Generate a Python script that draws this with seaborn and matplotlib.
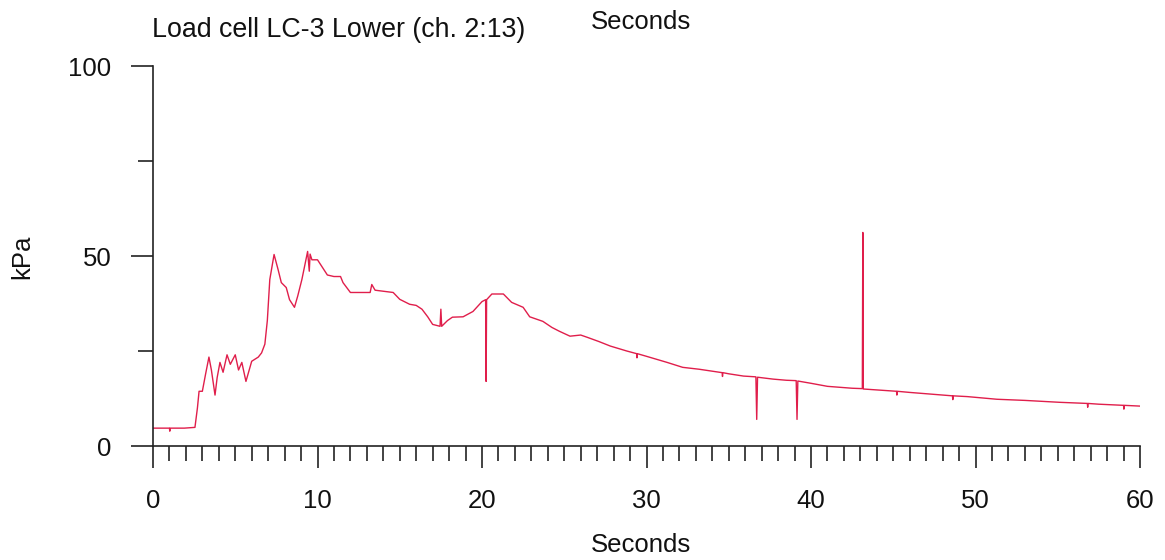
import matplotlib
matplotlib.use("Agg")
import matplotlib.pyplot as plt
import seaborn as sns
import pandas as pd
from matplotlib.ticker import MultipleLocator, FixedLocator

# Load cell LC-3 Lower
seconds = [0.0, 1.0, 1.02, 1.04, 1.9, 2.55, 2.7, 2.8, 3.0, 3.2, 3.4, 3.55, 3.77, 3.9,
           4.07, 4.26, 4.5, 4.7, 5.0, 5.2, 5.4, 5.65, 6.0, 6.4, 6.6, 6.8, 6.95, 7.1,
           7.36, 7.6, 7.8, 8.1, 8.3, 8.6, 8.8, 9.05, 9.4, 9.5, 9.55, 9.66, 10.0, 10.3,
           10.6, 11.0, 11.4, 11.55, 12.0, 13.2, 13.3, 13.5, 14.6, 15.0, 15.6, 16.0,
           16.35, 16.7, 17.0, 17.45, 17.5, 17.55, 17.9, 18.2, 18.85, 19.45, 20.0,
           20.22, 20.25, 20.28, 20.6, 21.3, 21.8, 22.5, 22.9, 23.7, 24.25, 24.7,
           25.35, 26.0, 26.4, 27.1, 27.8, 28.8, 29.4, 29.42, 29.44, 30.0, 31.25, 32.2,
           33.2, 34.0, 34.6, 34.62, 34.64, 35.0, 35.9, 36.65, 36.7, 36.75, 37.7, 38.5,
           39.1, 39.15, 39.2, 40.0, 41.0, 42.5, 43.12, 43.15, 43.18, 44.5, 45.2, 45.22,
           45.24, 46.0, 47.4, 48.6, 48.62, 48.64, 49.5, 51.3, 53.0, 55.1, 56.8, 56.82,
           56.84, 57.5, 59.0, 59.02, 59.04, 60.0]
kpa = [4.7, 4.7, 3.9, 4.7, 4.7, 4.9, 10.0, 14.4, 14.4, 19.0, 23.4, 20.0, 13.4, 18.0,
       22.0, 19.4, 24.0, 21.5, 24.0, 20.0, 22.0, 17.0, 22.3, 23.4, 24.5, 26.8, 33.0, 43.8,
       50.4, 46.5, 43.0, 41.7, 38.5, 36.5, 39.5, 43.8, 51.2, 46.0, 50.5, 49.0, 49.0, 47.0,
       45.0, 44.6, 44.6, 43.0, 40.4, 40.4, 42.5, 41.0, 40.4, 38.6, 37.3, 37.0,
       36.0, 34.0, 32.0, 31.5, 36.0, 31.5, 33.0, 33.9, 34.0, 35.4, 38.0,
       38.5, 17.0, 38.5, 40.0, 40.0, 37.8, 36.5, 34.0, 32.8, 31.2, 30.2,
       28.9, 29.2, 28.6, 27.5, 26.3, 25.0, 24.3, 23.2, 24.3, 23.6, 22.0, 20.7,
       20.2, 19.7, 19.3, 18.3, 19.3, 19.0, 18.4, 18.2, 7.0, 18.1, 17.6, 17.3,
       17.2, 7.0, 17.1, 16.5, 15.7, 15.2, 15.1, 56.2, 15.0, 14.6, 14.4, 13.4,
       14.4, 14.1, 13.6, 13.2, 12.2, 13.2, 13.0, 12.3, 12.0, 11.5, 11.2, 10.2,
       11.2, 11.0, 10.7, 9.7, 10.7, 10.5]

df = pd.DataFrame({"Seconds": seconds, "kPa": kpa})

sns.set_style("white")
plt.rcParams['font.family'] = ['Liberation Sans', 'DejaVu Sans']
plt.rcParams['font.size'] = 18.5
plt.rcParams['text.color'] = '#111111'
plt.rcParams['xtick.color'] = '#222222'
plt.rcParams['ytick.color'] = '#222222'
plt.rcParams['xtick.labelcolor'] = '#111111'
plt.rcParams['ytick.labelcolor'] = '#111111'

fig = plt.figure(figsize=(11.65, 5.6), dpi=100)
ax = fig.add_axes([153 / 1165, 1 - 446 / 560, (1140 - 153) / 1165, (446 - 66) / 560])

sns.lineplot(data=df, x="Seconds", y="kPa", ax=ax, color="#e01e4b",
             linewidth=1.0, estimator=None, sort=False)

ax.set_xlim(0, 60)
ax.set_ylim(0, 100)
sns.despine(ax=ax)
for s in ("left", "bottom"):
    ax.spines[s].set_color("#222222")
    ax.spines[s].set_linewidth(1.2)

ax.xaxis.set_major_locator(MultipleLocator(10))
ax.xaxis.set_minor_locator(MultipleLocator(1))
ax.yaxis.set_major_locator(FixedLocator([0, 50, 100]))
ax.yaxis.set_minor_locator(FixedLocator([25, 75]))
ax.tick_params(axis="x", which="both", bottom=True, direction="out")
ax.tick_params(axis="y", which="both", left=True, direction="out")
ax.tick_params(axis="x", which="major", length=16, width=1.2, pad=15, labelsize=18.5)
ax.tick_params(axis="x", which="minor", length=11, width=1.2)
ax.tick_params(axis="y", which="major", length=16, width=1.2, pad=14, labelsize=18.5)
ax.tick_params(axis="y", which="minor", length=11, width=1.2)
ax.set_xlabel("")
ax.set_ylabel("")

fig.text(152 / 1165, 1 - 30 / 560, "Load cell LC-3 Lower (ch. 2:13)", ha="left",
         va="center", fontsize=19.3)
fig.text(641 / 1165, 1 - 22 / 560, "Seconds", ha="center", va="center", fontsize=18.5)
fig.text(641 / 1165, 1 - 545 / 560, "Seconds", ha="center", va="center", fontsize=18.5)
fig.text(22 / 1165, 1 - 257 / 560, "kPa", ha="center", va="center", rotation=90,
         fontsize=18.5)

fig.savefig("out.png", dpi=100)
